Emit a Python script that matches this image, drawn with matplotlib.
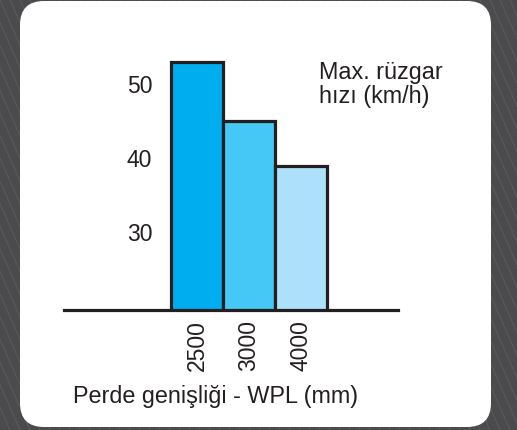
import numpy as np
import matplotlib.pyplot as plt
from matplotlib.patches import FancyBboxPatch

plt.rcParams['font.family'] = ['Liberation Sans', 'DejaVu Sans']

# data
widths = ["2500", "3000", "4000"]
wind_speed = [53, 45, 39]
bar_colors = ["#00aeef", "#45c8f5", "#ade1fb"]
y_ticks = [30, 40, 50]

W, H = 517, 430
fig = plt.figure(figsize=(W / 100, H / 100), dpi=100, facecolor="#4b4b4d")

# background: faint diagonal stripes + white rounded card (pixel coords)
bg = fig.add_axes([0, 0, 1, 1])
bg.set_xlim(0, W)
bg.set_ylim(H, 0)
bg.axis("off")
bg.set_facecolor("#4b4b4d")
for x0 in np.arange(-250, W + 20, 10):
    bg.plot([x0, x0 + 190], [0, H], color="#5d5d60", lw=0.6, zorder=0)
card = FancyBboxPatch((20 + 24, 1 + 24), 471 - 48, 426 - 48,
                      boxstyle="round,pad=24", fc="white", ec="none", zorder=1)
bg.add_patch(card)

# main chart
ax = fig.add_axes([64 / W, (H - 310) / H, 334 / W, 270 / H])
ax.patch.set_visible(False)
x = np.arange(len(widths))
ax.bar(x, wind_speed, width=1.0, color=bar_colors, edgecolor="#231f20",
       linewidth=2.3, zorder=3)
ax.set_xlim(-2.56, 3.87)
ax.set_ylim(19.5, 56.0)

for s in ["top", "right"]:
    ax.spines[s].set_visible(False)
ax.spines["left"].set_position(("data", -0.77))
ax.spines["left"].set_visible(False)
ax.spines["bottom"].set_linewidth(2.3)
ax.spines["bottom"].set_color("#231f20")
ax.spines["bottom"].set_zorder(4)

ax.set_yticks(y_ticks)
ax.set_yticklabels([str(v) for v in y_ticks])
ax.set_xticks(x)
ax.set_xticklabels(widths, rotation=90)
ax.tick_params(axis="y", length=0, pad=3.5, labelsize=16.5, labelcolor="#231f20")
ax.tick_params(axis="x", length=0, pad=7, labelsize=16.5, labelcolor="#231f20")

fig.text(73 / W, (H - 397) / H, "Perde genişliği - WPL (mm)", fontsize=16.8,
         color="#231f20", ha="left", va="center")
fig.text(319 / W, (H - 73) / H, "Max. rüzgar", fontsize=16.8,
         color="#231f20", ha="left", va="center")
fig.text(319 / W, (H - 96) / H, "hızı (km/h)", fontsize=16.8,
         color="#231f20", ha="left", va="center")

fig.savefig("out.png", dpi=100, facecolor=fig.get_facecolor())
